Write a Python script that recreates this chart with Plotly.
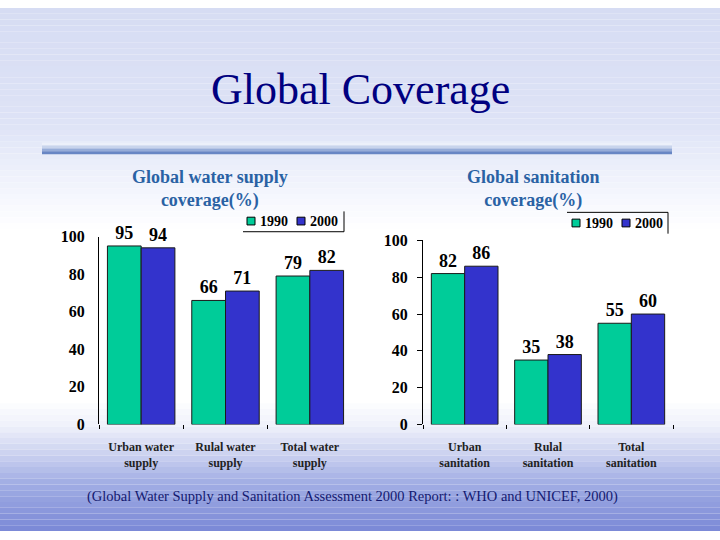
import plotly.graph_objects as go

# ---------------- data ----------------
water_categories = ["Urban water<br>supply", "Rulal water<br>supply", "Total water<br>supply"]
water_1990 = [95, 66, 79]
water_2000 = [94, 71, 82]

san_categories = ["Urban<br>sanitation", "Rulal<br>sanitation", "Total<br>sanitation"]
san_1990 = [82, 35, 55]
san_2000 = [86, 38, 60]

years = ["1990", "2000"]
y_ticks = [0, 20, 40, 60, 80, 100]

main_title = "Global Coverage"
water_title = "Global water supply<br>coverage(%)"
san_title = "Global sanitation<br>coverage(%)"
source_note = "(Global Water Supply and Sanitation Assessment 2000 Report: : WHO and UNICEF, 2000)"

# ---------------- style ----------------
W, H = 720, 540
GREEN = "#00cc99"
BLUE = "#3333cc"
SERIF = "Liberation Serif"


def px_x(x):
    return x / W


def px_y(y):
    return 1 - y / H


fig = go.Figure()

bar_line = dict(color="#1a1a1a", width=1)
label_font = dict(family=SERIF, size=18, color="black", weight="bold")

fig.add_trace(go.Bar(x=water_categories, y=water_1990, name=years[0], marker=dict(color=GREEN, line=bar_line),
                     text=water_1990, textposition="outside", textfont=label_font, cliponaxis=False,
                     xaxis="x", yaxis="y", showlegend=False))
fig.add_trace(go.Bar(x=water_categories, y=water_2000, name=years[1], marker=dict(color=BLUE, line=bar_line),
                     text=water_2000, textposition="outside", textfont=label_font, cliponaxis=False,
                     xaxis="x", yaxis="y", showlegend=False))
fig.add_trace(go.Bar(x=san_categories, y=san_1990, name=years[0], marker=dict(color=GREEN, line=bar_line),
                     text=san_1990, textposition="outside", textfont=label_font, cliponaxis=False,
                     xaxis="x2", yaxis="y2", showlegend=False))
fig.add_trace(go.Bar(x=san_categories, y=san_2000, name=years[1], marker=dict(color=BLUE, line=bar_line),
                     text=san_2000, textposition="outside", textfont=label_font, cliponaxis=False,
                     xaxis="x2", yaxis="y2", showlegend=False))

# ---------------- background gradient ----------------
stops = [
    (0, (214, 220, 243)),
    (120, (222, 227, 246)),
    (160, (234, 238, 250)),
    (200, (247, 248, 254)),
    (230, (255, 255, 255)),
    (405, (255, 255, 255)),
    (432, (238, 240, 250)),
    (460, (204, 210, 240)),
    (490, (162, 174, 228)),
    (540, (122, 136, 214)),
]


def color_at(y):
    for (y0, c0), (y1, c1) in zip(stops[:-1], stops[1:]):
        if y0 <= y <= y1:
            t = (y - y0) / (y1 - y0) if y1 > y0 else 0
            c = [round(a + (b - a) * t) for a, b in zip(c0, c1)]
            return "rgb(%d,%d,%d)" % tuple(c)
    return "rgb(%d,%d,%d)" % stops[-1][1]


shapes = []
step = 6
for y in range(0, H, step):
    shapes.append(dict(type="rect", xref="paper", yref="paper", x0=0, x1=1,
                       y0=px_y(y + step), y1=px_y(y), fillcolor=color_at(y + step / 2),
                       line=dict(width=0), layer="below"))

# decorative band under the title
band = [(139, (236, 240, 250)), (142, (200, 212, 236)), (145, (150, 172, 216)), (148, (104, 134, 196)), (151, (78, 108, 176))]
for i in range(len(band) - 1):
    shapes.append(dict(type="rect", xref="paper", yref="paper", x0=px_x(42), x1=px_x(672),
                       y0=px_y(band[i + 1][0]), y1=px_y(band[i][0]),
                       fillcolor="rgb(%d,%d,%d)" % band[i][1], line=dict(width=0), layer="below"))

# ---------------- legends (drawn manually, compact like the original) ----------------
legend_font = dict(family=SERIF, size=14, color="black", weight="bold")
annotations = []
legend_specs = [
    # (x of first swatch, swatch top y, frame lines)
    (247, 216, [((243, 231), (344, 231)), ((344, 210), (344, 231))]),
    (572, 218, [((567, 211), (668, 211)), ((668, 211), (668, 233))]),
]
for sx, sy, lines in legend_specs:
    for i, (yr, col) in enumerate(zip(years, [GREEN, BLUE])):
        x0 = sx + i * 50
        shapes.append(dict(type="rect", xref="paper", yref="paper", x0=px_x(x0), x1=px_x(x0 + 8),
                           y0=px_y(sy + 8), y1=px_y(sy), fillcolor=col, line=dict(color="black", width=1)))
        annotations.append(dict(text=yr, x=px_x(x0 + 11), y=px_y(sy + 4), xref="paper", yref="paper",
                                showarrow=False, font=legend_font, xanchor="left", yanchor="middle"))
    for (ax, ay), (bx, by) in lines:
        shapes.append(dict(type="line", xref="paper", yref="paper", x0=px_x(ax), x1=px_x(bx),
                           y0=px_y(ay), y1=px_y(by), line=dict(color="black", width=1)))

# ---------------- annotations ----------------
annotations += [
    dict(text=main_title, x=px_x(360), y=px_y(84), xref="paper", yref="paper", showarrow=False,
         font=dict(family=SERIF, size=44, color="#000080"), xanchor="center", yanchor="middle"),
    dict(text=water_title, x=px_x(210), y=px_y(187), xref="paper", yref="paper", showarrow=False,
         font=dict(family=SERIF, size=18, color="#2a62a4", weight="bold"), xanchor="center", yanchor="middle"),
    dict(text=san_title, x=px_x(533), y=px_y(187), xref="paper", yref="paper", showarrow=False,
         font=dict(family=SERIF, size=18, color="#2a62a4", weight="bold"), xanchor="center", yanchor="middle"),
    dict(text=source_note, x=px_x(85), y=px_y(504), xref="paper", yref="paper", showarrow=False,
         font=dict(family=SERIF, size=14.5, color="#141a70"), xanchor="left", yanchor="middle"),
]

tick_font = dict(family=SERIF, size=16, color="black", weight="bold")
cat_font = dict(family=SERIF, size=12, color="#222222", weight="bold")

fig.update_layout(
    width=W, height=H,
    margin=dict(l=0, r=0, t=0, b=0),
    paper_bgcolor="white",
    plot_bgcolor="rgba(0,0,0,0)",
    barmode="group",
    bargap=0.2,
    bargroupgap=0,
    shapes=shapes,
    annotations=annotations,
    showlegend=False,
    xaxis=dict(domain=[px_x(99), px_x(352)], anchor="y", showline=False, showgrid=False,
               ticks="outside", tickson="boundaries", ticklen=4, tickcolor="black",
               ticklabelstandoff=14, tickfont=cat_font, zeroline=False),
    yaxis=dict(domain=[px_y(430), px_y(236)], anchor="x", range=[0, 100], tickvals=y_ticks,
               showline=True, linecolor="black", linewidth=1, showgrid=False, zeroline=False,
               ticks="outside", ticklen=0, ticklabelstandoff=10, tickfont=tick_font),
    xaxis2=dict(domain=[px_x(423), px_x(673)], anchor="y2", showline=False, showgrid=False,
                ticks="outside", tickson="boundaries", ticklen=4, tickcolor="black",
                ticklabelstandoff=14, tickfont=cat_font, zeroline=False),
    yaxis2=dict(domain=[px_y(430), px_y(240)], anchor="x2", range=[0, 100], tickvals=y_ticks,
                showline=True, linecolor="black", linewidth=1, showgrid=False, zeroline=False,
                ticks="outside", ticklen=5, tickcolor="black", ticklabelstandoff=6, tickfont=tick_font),
)

fig.write_html("out.html")
